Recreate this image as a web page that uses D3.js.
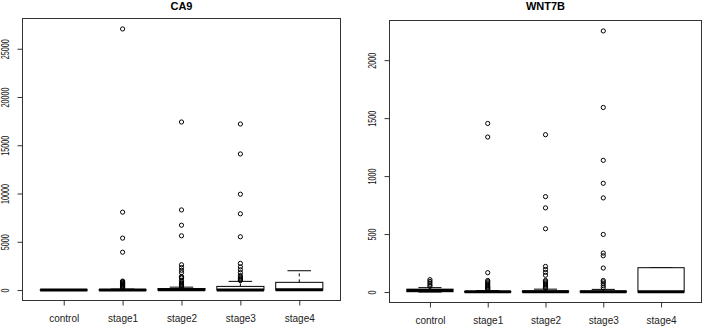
<!DOCTYPE html>
<html>
<head>
<meta charset="utf-8">
<script src="https://cdn.jsdelivr.net/npm/d3@7"></script>
<style>
  body { margin: 0; background: #fff; }
  svg { display: block; font-family: "Liberation Sans", Arial, sans-serif; }
</style>
</head>
<body>
<div id="chart"></div>
<script>
// Groups shared by both panels
const categories = ['control', 'stage1', 'stage2', 'stage3', 'stage4'];

// CA9: [lower whisker, q1, median, q3, upper whisker] per group
const ca9Stats = [
  [0, 0, 0, 10, 30],
  [0, 0, 5, 40, 100],
  [0, 0, 20, 150, 300],
  [0, 0, 10, 380, 900],
  [0, 0, 20, 800, 2000]
];
const ca9Outliers = [
  [],
  [27050, 8070, 5380, 3920, 930, 860, 790, 720, 650, 580, 510, 440, 370, 300, 230],
  [17410, 8300, 6720, 5620, 2620, 2330, 2050, 1800, 1400, 1300, 1250, 1000, 850, 700, 600, 500, 420, 350],
  [17200, 14100, 9930, 7900, 5520, 2760, 2400, 2100, 1800, 1500, 1350, 1250, 1150, 1050, 980],
  []
];
const ca9Ticks = [0, 5000, 10000, 15000, 20000, 25000];

// WNT7B
const wnt7bStats = [
  [0, 3, 14, 25, 38],
  [0, 0, 2, 5, 12],
  [0, 0, 3, 10, 25],
  [0, 0, 2, 8, 23],
  [0, 0, 3, 210, 210]
];
const wnt7bOutliers = [
  [107, 92, 78, 62, 50],
  [1454, 1337, 167, 100, 90, 80, 70, 60, 50, 42, 35, 28, 22],
  [1357, 823, 726, 546, 221, 195, 170, 145, 100, 90, 80, 70, 60, 50, 40, 32],
  [2252, 1592, 1136, 938, 812, 497, 336, 313, 207, 100, 88, 72, 55, 38],
  []
];
const wnt7bTicks = [0, 500, 1000, 1500, 2000];

const svg = d3.select('#chart')
  .append('svg')
  .attr('width', 709)
  .attr('height', 326);

function drawPanel(title, stats, outliers, ticks, box) {
  const g = svg.append('g');

  const all = stats.flat().concat(outliers.flat());
  const lo = d3.min(all), hi = d3.max(all);
  const pad = (hi - lo) * 0.04;

  const x = d3.scalePoint()
    .domain(categories)
    .range([box.x0, box.x1])
    .padding(0.7);
  const bw = x.step() * 0.8;

  const y = d3.scaleLinear()
    .domain([lo - pad, hi + pad])
    .range([box.y1, box.y0]);

  // title
  g.append('text')
    .attr('x', (box.x0 + box.x1) / 2)
    .attr('y', 9.5)
    .attr('text-anchor', 'middle')
    .attr('font-size', 11)
    .attr('font-weight', 'bold')
    .text(title);

  // boxes
  stats.forEach((s, i) => {
    const cx = x(categories[i]);
    const [wl, q1, med, q3, wh] = s;
    const bg = g.append('g').attr('stroke', '#000').attr('fill', 'none');

    // whiskers (dashed) and staples
    bg.append('line')
      .attr('x1', cx).attr('x2', cx)
      .attr('y1', y(q3)).attr('y2', y(wh))
      .attr('stroke-dasharray', '3,3');
    bg.append('line')
      .attr('x1', cx).attr('x2', cx)
      .attr('y1', y(q1)).attr('y2', y(wl))
      .attr('stroke-dasharray', '3,3');
    [wl, wh].forEach(v => {
      bg.append('line')
        .attr('x1', cx - bw / 4).attr('x2', cx + bw / 4)
        .attr('y1', y(v)).attr('y2', y(v));
    });

    bg.append('rect')
      .attr('x', cx - bw / 2)
      .attr('width', bw)
      .attr('y', y(q3))
      .attr('height', Math.max(0, y(q1) - y(q3)))
      .attr('fill', '#fff');

    bg.append('line')
      .attr('x1', cx - bw / 2).attr('x2', cx + bw / 2)
      .attr('y1', y(med)).attr('y2', y(med))
      .attr('stroke-width', 3);

    bg.selectAll('circle')
      .data(outliers[i])
      .enter()
      .append('circle')
      .attr('cx', cx)
      .attr('cy', d => y(d))
      .attr('r', 2.1)
      .attr('stroke-width', 1);
  });

  // frame
  g.append('rect')
    .attr('x', box.x0).attr('y', box.y0)
    .attr('width', box.x1 - box.x0)
    .attr('height', box.y1 - box.y0)
    .attr('fill', 'none')
    .attr('stroke', '#333');

  // x axis
  const xa = g.append('g')
    .attr('transform', `translate(0,${box.y1})`)
    .call(d3.axisBottom(x).tickSize(5).tickPadding(9));
  xa.select('.domain').remove();
  xa.selectAll('line').attr('stroke', '#333');
  xa.selectAll('text').attr('font-size', 10).attr('font-family', null).attr('fill', '#222');

  // y axis, labels turned parallel to the axis
  const ya = g.append('g')
    .attr('transform', `translate(${box.x0},0)`)
    .call(d3.axisLeft(y).tickValues(ticks).tickFormat(d3.format('d')).tickSize(5));
  ya.select('.domain').remove();
  ya.selectAll('line').attr('stroke', '#333');
  ya.selectAll('.tick text').remove();
  ya.selectAll('.tick')
    .append('g')
    .attr('transform', 'translate(-14,0) rotate(-90) scale(0.72,1)')
    .append('text')
    .attr('text-anchor', 'middle')
    .attr('font-size', 10)
    .attr('fill', '#111')
    .text(d => d3.format('d')(d));
}

drawPanel('CA9', ca9Stats, ca9Outliers, ca9Ticks,
  { x0: 22.5, x1: 340.5, y0: 18.5, y1: 300.5 });
drawPanel('WNT7B', wnt7bStats, wnt7bOutliers, wnt7bTicks,
  { x0: 389.5, x1: 701.5, y0: 20.5, y1: 302.5 });
</script>
</body>
</html>
